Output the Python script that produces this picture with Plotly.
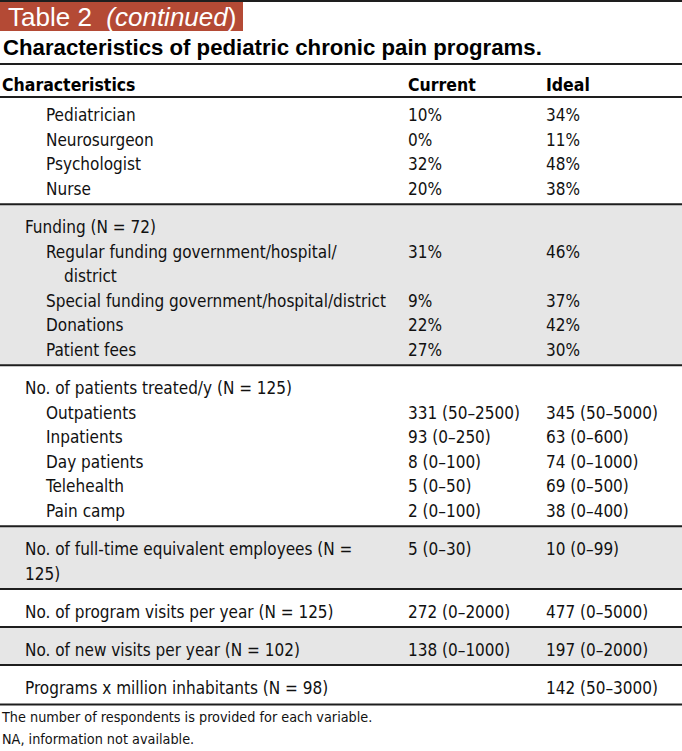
import plotly.graph_objects as go

# ---------------- data ----------------
header = ["Characteristics", "Current", "Ideal"]

characteristics = [
    "Pediatrician", "Neurosurgeon", "Psychologist", "Nurse",
    "Funding (N = 72)",
    "Regular funding government/hospital/\ndistrict",
    "Special funding government/hospital/district",
    "Donations", "Patient fees",
    "No. of patients treated/y (N = 125)",
    "Outpatients", "Inpatients", "Day patients", "Telehealth", "Pain camp",
    "No. of full-time equivalent employees (N =\n125)",
    "No. of program visits per year (N = 125)",
    "No. of new visits per year (N = 102)",
    "Programs x million inhabitants (N = 98)",
]
current = [
    "10%", "0%", "32%", "20%",
    "", "31%", "9%", "22%", "27%",
    "", "331 (50–2500)", "93 (0–250)", "8 (0–100)", "5 (0–50)", "2 (0–100)",
    "5 (0–30)", "272 (0–2000)", "138 (0–1000)", "",
]
ideal = [
    "34%", "11%", "48%", "38%",
    "", "46%", "37%", "42%", "30%",
    "", "345 (50–5000)", "63 (0–600)", "74 (0–1000)", "69 (0–500)", "38 (0–400)",
    "10 (0–99)", "477 (0–5000)", "197 (0–2000)", "142 (50–3000)",
]
level = [2, 2, 2, 2, 1, 2, 2, 2, 2, 1, 2, 2, 2, 2, 2, 1, 1, 1, 1]
group = [0, 0, 0, 0, 1, 1, 1, 1, 1, 2, 2, 2, 2, 2, 2, 3, 4, 5, 6]

title_tab = "Table 2  <i>(continued</i>)"
title = "<b>Characteristics of pediatric chronic pain programs.</b>"
footnotes = ["The number of respondents is provided for each variable.",
             "NA, information not available."]

# ---------------- layout params ----------------
W, H = 682, 751
NARROW = "DejaVu Sans Condensed, Liberation Sans Narrow, Arial Narrow, sans-serif"
REG = "Liberation Sans, Arial, Helvetica, sans-serif"
FS = 17
X_LABEL = {1: 25, 2: 46}
X_CUR, X_IDEAL = 408, 546
LINE_H = 24.6
FIRST_Y = 114.5
GAP_AFTER = 16
GAP_BEFORE = 22
TXT_DY = 2.5
GRAY = "#e6e6e6"
RULE = "#1e1e1e"

# compute positions
lab_x, lab_y, lab_t = [], [], []
val_y = []
group_bounds = {}
y = FIRST_Y
prev_group = group[0]
group_start = 97
for i, lab in enumerate(characteristics):
    if group[i] != prev_group:
        line_y = y - LINE_H + GAP_AFTER
        group_bounds[prev_group] = (group_start, line_y)
        group_start = line_y
        y = line_y + GAP_BEFORE
        prev_group = group[i]
    parts = lab.split("\n")
    val_y.append(y + TXT_DY)
    for k, p in enumerate(parts):
        indent = X_LABEL[level[i]]
        if k > 0 and level[i] == 2:
            indent += 18
        lab_x.append(indent)
        lab_y.append(y + TXT_DY)
        lab_t.append(p)
        y += LINE_H
last_line = y - LINE_H + GAP_AFTER + 1.5
group_bounds[prev_group] = (group_start, last_line)

fig = go.Figure()

shapes = []
for g, (y0, y1) in group_bounds.items():
    if g % 2 == 1:
        shapes.append(dict(type="rect", xref="x", yref="y", x0=0, x1=W, y0=y0, y1=y1,
                           fillcolor=GRAY, line=dict(width=0), layer="below"))
for g, (y0, y1) in group_bounds.items():
    shapes.append(dict(type="line", xref="x", yref="y", x0=0, x1=W, y0=y1, y1=y1,
                       line=dict(color=RULE, width=2)))
HEADER_Y = 86.5
shapes.append(dict(type="line", xref="x", yref="y", x0=0, x1=W, y0=97, y1=97,
                   line=dict(color=RULE, width=2)))
shapes.append(dict(type="line", xref="x", yref="y", x0=0, x1=W, y0=64, y1=64,
                   line=dict(color=RULE, width=2)))
shapes.append(dict(type="line", xref="x", yref="y", x0=0, x1=W, y0=1, y1=1,
                   line=dict(color=RULE, width=2)))
shapes.append(dict(type="rect", xref="x", yref="y", x0=0, x1=243, y0=2, y1=31,
                   fillcolor="#b44a35", line=dict(width=0)))

fig.add_trace(go.Scatter(
    x=[2, X_CUR, X_IDEAL], y=[HEADER_Y] * 3, mode="text",
    text=[f"<b>{h}</b>" for h in header], textposition="middle right",
    textfont=dict(family=NARROW, size=17.5, color="#000"),
    hoverinfo="skip", showlegend=False))
fig.add_trace(go.Scatter(
    x=lab_x, y=lab_y, mode="text", text=lab_t, textposition="middle right",
    textfont=dict(family=NARROW, size=FS, color="#111"),
    hoverinfo="skip", showlegend=False))
fig.add_trace(go.Scatter(
    x=[X_CUR] * len(current), y=val_y, mode="text", text=current,
    textposition="middle right",
    textfont=dict(family=NARROW, size=FS, color="#111"),
    hoverinfo="skip", showlegend=False))
fig.add_trace(go.Scatter(
    x=[X_IDEAL] * len(ideal), y=val_y, mode="text", text=ideal,
    textposition="middle right",
    textfont=dict(family=NARROW, size=FS, color="#111"),
    hoverinfo="skip", showlegend=False))
fig.add_trace(go.Scatter(
    x=[2, 2], y=[last_line + 14.5, last_line + 36.5], mode="text", text=footnotes,
    textposition="middle right",
    textfont=dict(family=NARROW, size=14.3, color="#111"),
    hoverinfo="skip", showlegend=False))

annotations = [
    dict(xref="x", yref="y", x=6, y=16.5, text=title_tab, showarrow=False,
         xanchor="left", yanchor="middle",
         font=dict(family=REG, size=26, color="white")),
    dict(xref="x", yref="y", x=1, y=47.5, text=title, showarrow=False,
         xanchor="left", yanchor="middle",
         font=dict(family=REG, size=22.2, color="#000")),
]

fig.update_layout(
    width=W, height=H, margin=dict(l=0, r=0, t=0, b=0),
    paper_bgcolor="white", plot_bgcolor="white",
    xaxis=dict(range=[0, W], visible=False, fixedrange=True),
    yaxis=dict(range=[H, 0], visible=False, fixedrange=True),
    shapes=shapes, annotations=annotations,
)

fig.write_html("out.html", config={"displayModeBar": False},
               post_script="document.body.style.margin='0px';document.body.style.overflow='hidden';")
